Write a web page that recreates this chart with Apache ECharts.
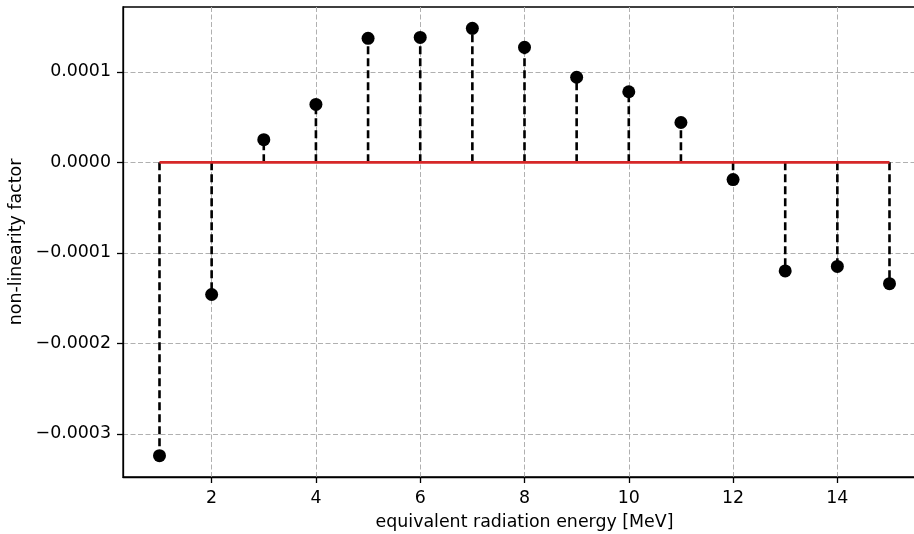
<!DOCTYPE html>
<html>
<head>
<meta charset="utf-8">
<script src="https://cdn.jsdelivr.net/npm/echarts@6/dist/echarts.min.js"></script>
<style>html,body{margin:0;padding:0;background:#fff;}#c{width:914px;height:534px;}</style>
</head>
<body>
<div id="c"></div>
<script>
var energies = [1,2,3,4,5,6,7,8,9,10,11,12,13,14,15];
var factors = [-3.24e-4,-1.46e-4,0.25e-4,0.64e-4,1.37e-4,1.38e-4,1.48e-4,1.27e-4,0.94e-4,0.78e-4,0.44e-4,-0.19e-4,-1.20e-4,-1.15e-4,-1.34e-4];
var xTicks = [2,4,6,8,10,12,14];
var yTicks = [-3e-4,-2e-4,-1e-4,0,1e-4];
var baseline = 0;

var pts = energies.map(function(e,i){return [e,factors[i]];});
var font = 'DejaVu Sans';
var fs = 17.4;
var chart = echarts.init(document.getElementById('c'), null, {renderer:'canvas'});
chart.setOption({
  animation:false,
  backgroundColor:'#fff',
  grid:{left:123,right:-12,top:7,bottom:57,containLabel:false,outerBoundsMode:'none',
    show:true,borderColor:'#000',borderWidth:1.3,backgroundColor:'transparent'},
  xAxis:{
    type:'value',min:0.3,max:15.7,
    name:'equivalent radiation energy [MeV]',nameLocation:'middle',nameGap:37,
    nameTextStyle:{fontFamily:font,fontSize:fs,color:'#000'},
    axisLine:{show:true,onZero:false,lineStyle:{color:'#000',width:1.3}},
    axisTick:{show:true,length:6,customValues:xTicks,lineStyle:{color:'#000',width:1.3}},
    axisLabel:{customValues:xTicks,fontFamily:font,fontSize:fs,color:'#000',margin:13},
    splitLine:{show:true,lineStyle:{color:'#b0b0b0',width:1,type:[5,2.5]}}
  },
  yAxis:{
    type:'value',min:-3.476e-4,max:1.716e-4,
    name:'non-linearity factor',nameLocation:'middle',nameGap:96,nameRotate:90,
    nameTextStyle:{fontFamily:font,fontSize:fs,color:'#000'},
    axisLine:{show:true,onZero:false,lineStyle:{color:'#000',width:1.3}},
    axisTick:{show:true,length:6,customValues:yTicks,lineStyle:{color:'#000',width:1.3}},
    axisLabel:{customValues:yTicks,fontFamily:font,fontSize:fs,color:'#000',margin:12,
      formatter:function(v){var s=(Math.abs(v)<1e-12?0:v).toFixed(4);return s.replace('-','\u2212');}},
    splitLine:{show:true,lineStyle:{color:'#b0b0b0',width:1,type:[5,2.5]}}
  },
  series:[
    {
      type:'custom',
      data:pts,
      z:3,
      renderItem:function(params,api){
        var p0=api.coord([api.value(0),baseline]);
        var p1=api.coord([api.value(0),api.value(1)]);
        return {type:'line',shape:{x1:p0[0],y1:p0[1],x2:p1[0],y2:p1[1]},
          style:{stroke:'#000',lineWidth:2.6,lineDash:[8,4]}};
      }
    },
    {
      type:'line',
      data:[[energies[0],baseline],[energies[energies.length-1],baseline]],
      showSymbol:false,symbol:'none',z:4,
      lineStyle:{color:'#d62728',width:2.6}
    },
    {
      type:'scatter',data:pts,symbol:'circle',symbolSize:13,z:5,
      itemStyle:{color:'#000',opacity:1}
    }
  ]
});
</script>
</body>
</html>
